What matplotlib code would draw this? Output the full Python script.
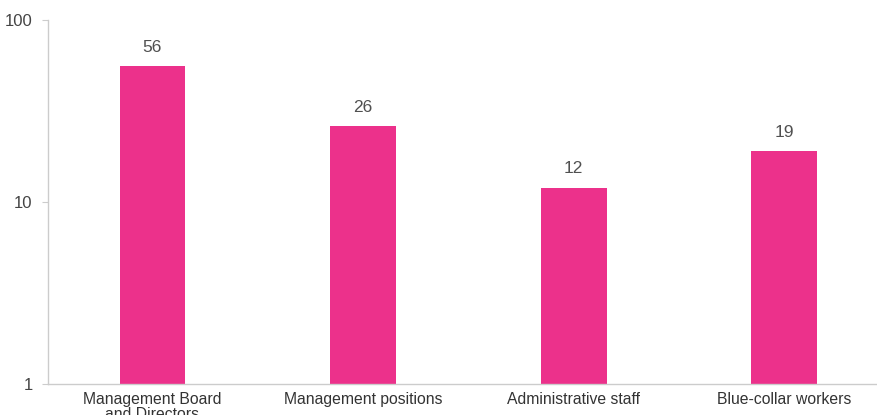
import matplotlib
matplotlib.use("Agg")
import matplotlib.pyplot as plt
from matplotlib.ticker import FixedLocator, NullLocator, FixedFormatter

categories = ["Management Board\nand Directors", "Management positions",
              "Administrative staff", "Blue-collar workers"]
values = [56, 26, 12, 19]
y_ticks = [1, 10, 100]
y_tick_labels = ["1", "10", "100"]

plt.rcParams["font.family"] = ["Liberation Sans", "DejaVu Sans"]

fig = plt.figure(figsize=(8.77, 4.15), dpi=100)
ax = fig.add_axes([48 / 877, (415 - 384) / 415, 1 - 48 / 877, (384 - 20) / 415])

bar_color = "#EC318B"
x = list(range(len(categories)))
ax.bar(x, values, width=0.313, color=bar_color, bottom=0)

ax.set_yscale("log")
ax.set_ylim(1, 100)
ax.set_xlim(-0.496, 3.44)
ax.yaxis.set_major_locator(FixedLocator(y_ticks))
ax.yaxis.set_major_formatter(FixedFormatter(y_tick_labels))
ax.yaxis.set_minor_locator(NullLocator())

ax.set_xticks(x)
ax.set_xticklabels(categories, fontsize=11.3, color="#333333", linespacing=0.95)
ax.tick_params(axis="x", length=0, pad=6)
ax.tick_params(axis="y", length=4, width=0.8, color="#cccccc", labelsize=12,
               labelcolor="#444444", pad=7)

for s in ["top", "right"]:
    ax.spines[s].set_visible(False)
for s in ["left", "bottom"]:
    ax.spines[s].set_color("#cccccc")
    ax.spines[s].set_linewidth(1.0)

for xi, v in zip(x, values):
    ax.annotate(f"{v}", xy=(xi, v), xytext=(0, 8), textcoords="offset points",
                ha="center", va="bottom", fontsize=12.5, color="#505050")

fig.savefig("out.png", dpi=100)
